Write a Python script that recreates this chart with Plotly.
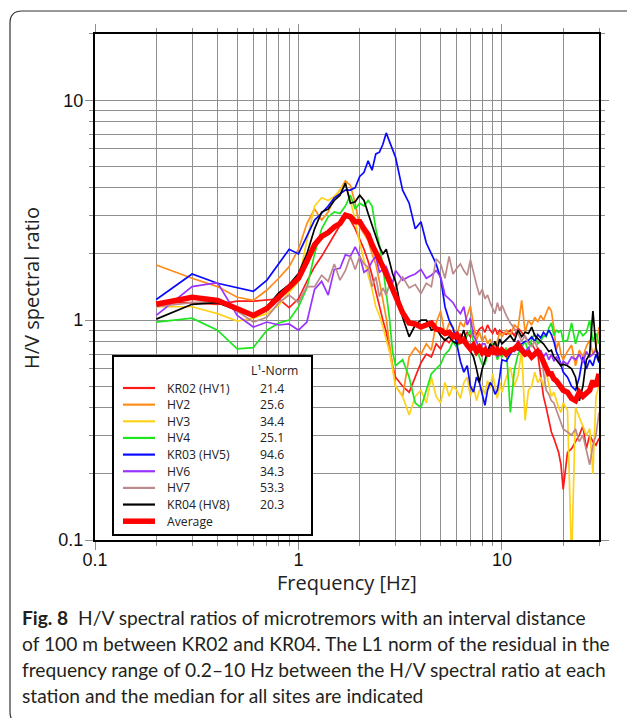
import plotly.graph_objects as go

# ---------------- data ----------------
freq = [0.2, 0.3, 0.4, 0.5, 0.6, 0.7, 0.8, 0.9, 1.0,
        1.1, 1.2, 1.3, 1.4, 1.5, 1.6, 1.7, 1.8, 1.9, 2.0,
        2.1, 2.2, 2.3, 2.4, 2.5, 2.6, 2.7, 2.8, 2.9, 3.0,
        3.25, 3.5, 3.75, 4.0, 4.25, 4.5, 4.75, 5.0, 5.25, 5.5,
        5.75, 6.0, 6.25, 6.5, 6.75, 7.0, 7.25, 7.5, 7.75, 8.0,
        8.25, 8.5, 8.75, 9.0, 9.25, 9.5, 9.75, 10.0,
        10.5, 11, 11.5, 12, 12.5, 13, 13.5, 14, 14.5, 15,
        15.5, 16, 16.5, 17, 17.5, 18, 18.5, 19, 19.5, 20,
        21, 22, 23, 24, 25, 26, 27, 28, 29, 30]

kr02 = [1.2, 1.2, 1.18, 1.22, 1.22, 1.24, 1.25, 1.14, 1.25,
        1.5, 1.75, 1.95, 2.2, 2.45, 2.7, 3.05, 2.85, 2.6, 2.35,
        2.1, 1.85, 1.6, 1.35, 1.15, 1.0, 0.88, 0.74, 0.62, 0.55,
        0.5, 0.47, 0.55, 0.64, 0.7, 0.68, 0.78, 0.74, 0.82, 0.79,
        0.85, 0.8, 0.86, 0.83, 0.88, 0.84, 0.9, 0.86, 0.91, 0.93,
        0.88, 0.95, 0.9, 0.87, 0.92, 0.86, 0.9, 0.88,
        0.86, 0.9, 0.85, 0.92, 0.88, 0.84, 0.8, 0.78, 0.74, 0.7,
        0.56, 0.45, 0.4, 0.35, 0.31, 0.29, 0.27, 0.25, 0.22, 0.17,
        0.25, 0.26, 0.28, 0.3, 0.33, 0.26, 0.3, 0.28, 0.27, 0.29]

hv2 = [1.78, 1.55, 1.42, 1.27, 1.23, 1.37, 1.55, 1.75, 2.1,
       2.75, 3.2, 2.85, 3.1, 3.6, 3.9, 4.3, 4.1, 3.4, 2.65,
       2.45, 2.3, 2.0, 1.8, 1.5, 1.25, 1.02, 0.78, 0.62, 0.5,
       0.45, 0.68, 0.75, 0.7, 0.78, 0.73, 0.97, 1.1, 0.85, 0.97,
       0.92, 0.85, 0.98, 0.93, 1.05, 1.16, 0.95, 0.81, 0.88, 0.8,
       0.85, 0.78, 0.82, 0.75, 0.73, 0.8, 0.88, 0.84,
       0.9, 0.85, 0.95, 0.92, 1.23, 0.88, 1.0, 0.95, 1.03, 0.98,
       1.05, 1.0, 1.07, 1.15, 1.1, 0.92, 0.73, 0.8, 0.7, 0.66,
       0.72, 0.77, 0.62, 0.73, 0.68, 0.76, 0.81, 0.7, 0.75, 0.93]

hv3 = [1.15, 1.15, 1.07, 0.99, 1.02, 1.07, 1.17, 1.33, 1.5,
       2.3, 3.3, 3.6, 3.5, 3.65, 3.9, 4.2, 3.5, 2.85, 2.24,
       1.87, 1.6, 1.38, 1.15, 1.05, 0.93, 0.81, 0.72, 0.6, 0.5,
       0.45, 0.37, 0.45, 0.48, 0.42, 0.55, 0.45, 0.42, 0.52, 0.45,
       0.5, 0.48, 0.44, 0.52, 0.55, 0.45, 0.5, 0.43, 0.48, 0.5,
       0.46, 0.53, 0.49, 0.57, 0.5, 0.44, 0.52, 0.47,
       0.55, 0.61, 0.5, 0.56, 0.73, 0.35, 0.48, 0.5, 0.58, 0.52,
       0.55, 0.5, 0.58, 0.5, 0.45, 0.47, 0.43, 0.4, 0.38, 0.42,
       0.39, 0.08, 0.4, 0.36, 0.33, 0.3, 0.32, 0.2, 0.45, 0.5]

hv4 = [0.98, 1.02, 0.9, 0.74, 0.75, 0.9, 0.97, 1.0, 1.15,
       1.4, 2.0, 2.6, 2.95, 3.1, 3.05, 3.3, 3.7, 3.2, 3.4,
       3.3, 3.5, 3.3, 2.6, 2.2, 1.74, 1.35, 1.02, 0.72, 0.62,
       0.66, 0.55, 0.42, 0.4, 0.48, 0.57, 0.6, 0.63, 0.7, 0.73,
       0.8, 0.75, 0.82, 0.79, 0.85, 0.9, 0.8, 0.73, 0.68, 0.63,
       0.63, 0.7, 0.75, 0.78, 0.72, 0.66, 0.7, 0.68,
       0.75, 0.38, 0.59, 0.7, 0.75, 0.8, 0.72, 0.82, 0.87, 0.78,
       0.8, 0.85, 0.84, 0.92, 0.97, 0.85, 0.9, 0.88, 0.9, 0.8,
       0.81, 0.97, 0.78, 0.9, 0.85, 0.88, 1.0, 0.8, 0.87, 0.78]

kr03 = [1.24, 1.62, 1.47, 1.4, 1.35, 1.52, 1.81, 2.1, 2.0,
        2.4, 2.85, 3.06, 3.3, 3.6, 3.75, 3.9, 3.9, 4.0, 4.5,
        4.7, 5.3, 4.8, 5.7, 5.8, 6.3, 7.1, 6.5, 6.0, 5.5,
        3.9, 3.4, 2.6, 2.8, 2.24, 2.0, 1.8, 1.55, 1.15, 1.0,
        0.92, 0.78, 0.65, 0.58, 0.62, 0.5, 0.47, 0.55, 0.52, 0.46,
        0.41, 0.48, 0.52, 0.5, 0.46, 0.48, 0.55, 0.66,
        0.65, 0.7, 0.75, 0.73, 0.78, 0.8, 0.81, 0.84, 0.8, 0.86,
        0.83, 0.88, 0.85, 0.9, 0.86, 0.8, 0.72, 0.68, 0.62, 0.58,
        0.55, 0.5, 0.48, 0.55, 0.68, 0.6, 0.66, 0.62, 0.7, 0.64]

hv6 = [1.05, 1.42, 1.48, 1.05, 0.93, 0.98, 0.95, 0.96, 0.9,
       0.98, 1.38, 1.5, 1.3, 1.7, 1.72, 1.98, 1.95, 2.15, 1.95,
       1.65, 1.7, 1.85, 1.95, 1.65, 1.7, 1.75, 1.6, 1.47, 1.68,
       1.52, 1.58, 1.62, 1.7, 1.55, 1.6, 1.68, 1.57, 1.3, 1.25,
       1.2, 1.12, 1.07, 1.15, 0.95, 1.02, 0.85, 0.8, 0.74, 0.78,
       0.78, 0.72, 0.76, 0.7, 0.74, 0.68, 0.72, 0.71,
       0.69, 0.74, 0.72, 0.81, 0.76, 0.72, 0.75, 0.69, 0.72, 0.7,
       0.73, 0.68, 0.71, 0.66, 0.7, 0.65, 0.68, 0.66, 0.62, 0.65,
       0.63, 0.68, 0.66, 0.7, 0.64, 0.72, 0.68, 0.7, 0.73, 0.7]

hv7 = [1.15, 1.2, 1.22, 1.1, 0.98, 1.03, 1.2, 1.3, 1.2,
       1.42, 1.42, 1.6, 1.5, 1.8, 1.52, 1.68, 1.95, 1.7, 1.95,
       1.8, 1.74, 1.42, 1.57, 1.28, 1.4, 1.3, 1.45, 1.32, 1.4,
       1.57, 1.4, 1.45, 1.32, 1.47, 1.42, 1.9, 1.8, 1.55, 1.95,
       1.62, 1.72, 1.8, 1.68, 1.6, 1.88, 1.62, 1.45, 1.3, 1.38,
       1.25, 1.3, 1.2, 1.14, 1.07, 1.2, 1.1, 1.17,
       1.05, 0.97, 0.92, 0.87, 0.8, 0.85, 0.78, 0.76, 0.8, 0.74,
       0.71, 0.57, 0.48, 0.46, 0.43, 0.42, 0.39, 0.36, 0.34, 0.32,
       0.31, 0.3, 0.32, 0.28, 0.3, 0.26, 0.22, 0.27, 0.3, 0.38]

kr04 = [1.01, 1.18, 1.2, 1.11, 1.06, 1.15, 1.33, 1.45, 1.63,
        2.0, 2.6, 3.1, 3.2, 3.5, 3.7, 4.2, 3.4, 3.45, 3.7,
        3.5, 3.05, 2.7, 2.45, 2.15, 2.0, 2.1, 1.85, 1.63, 1.5,
        1.03, 0.84, 0.95, 1.0, 1.0, 0.9, 0.92, 0.85, 0.81, 0.84,
        0.8, 0.78, 0.82, 0.9, 0.78, 0.72, 0.68, 0.6, 0.52, 0.6,
        0.66, 0.72, 0.78, 0.75, 0.8, 0.74, 0.82, 0.78,
        0.82, 0.85, 0.8, 0.9, 0.84, 0.88, 0.87, 0.93, 0.85, 0.82,
        0.8, 0.78, 0.75, 0.72, 0.73, 0.68, 0.66, 0.64, 0.62, 0.63,
        0.62, 0.6, 0.55, 0.43, 0.5, 0.66, 0.7, 1.1, 0.75, 0.65]

average = [1.18, 1.27, 1.23, 1.12, 1.05, 1.13, 1.27, 1.42, 1.55,
           1.85, 2.2, 2.4, 2.5, 2.65, 2.75, 3.0, 2.95, 2.8, 2.8,
           2.6, 2.45, 2.2, 2.05, 1.87, 1.75, 1.62, 1.5, 1.42, 1.3,
           1.08, 0.97, 0.96, 0.93, 0.95, 0.97, 0.91, 0.9, 0.87, 0.88,
           0.84, 0.86, 0.8, 0.81, 0.77, 0.74, 0.77, 0.72, 0.75, 0.71,
           0.73, 0.69, 0.72, 0.74, 0.7, 0.73, 0.7, 0.73,
           0.7, 0.73, 0.74, 0.77, 0.73, 0.7, 0.71, 0.68, 0.7, 0.72,
           0.69, 0.64, 0.61, 0.57, 0.57, 0.54, 0.53, 0.51, 0.5, 0.48,
           0.47, 0.44, 0.43, 0.47, 0.45, 0.47, 0.48, 0.53, 0.5, 0.57]

names = ["KR02 (HV1)", "HV2", "HV3", "HV4", "KR03 (HV5)", "HV6", "HV7", "KR04 (HV8)", "Average"]
l1_norm = ["21.4", "25.6", "34.4", "25.1", "94.6", "34.3", "53.3", "20.3", ""]
series = [kr02, hv2, hv3, hv4, kr03, hv6, hv7, kr04, average]
colors = ["#ff1a1a", "#ff8c1a", "#ffd21a", "#1ee61e", "#0a0aff", "#9933ff", "#bc8a8a", "#000000", "#ff0000"]
widths = [1.7, 1.7, 1.7, 1.7, 1.7, 1.7, 1.7, 1.7, 5.5]

x_ticks = [0.1, 1, 10]
y_ticks = [0.1, 1, 10]
x_minor = [0.2, 0.3, 0.4, 0.5, 0.6, 0.7, 0.8, 0.9, 2, 3, 4, 5, 6, 7, 8, 9, 20, 30]
y_minor = [0.2, 0.3, 0.4, 0.5, 0.6, 0.7, 0.8, 0.9, 2, 3, 4, 5, 6, 7, 8, 9, 20]

caption_lines = [
    "<b>Fig. 8</b>\u00a0 H/V spectral ratios of microtremors with an interval distance",
    "of 100 m between KR02 and KR04. The L1 norm of the residual in the",
    "frequency range of 0.2–10 Hz between the H/V spectral ratio at each",
    "station and the median for all sites are indicated",
]

for s in series:
    assert len(s) == len(freq), len(s)

# ---------------- layout geometry (pixels) ----------------
W, H = 627, 718
L, R, T, B = 95, 599, 34, 540


def px(x):
    return (x - L) / (R - L)


def py(y):
    return (B - y) / (B - T)


fig = go.Figure()
for s, n, c, w in zip(series, names, colors, widths):
    fig.add_trace(go.Scatter(x=freq, y=s, mode="lines", name=n,
                             line=dict(color=c, width=w), showlegend=False))

grid = "#8f8f8f"
axis_common = dict(
    type="log", showline=True, linecolor="black", linewidth=2.2, mirror="allticks",
    ticks="outside", ticklen=8, tickwidth=1.2, tickcolor=grid,
    showgrid=True, gridcolor=grid, gridwidth=1.1, zeroline=False,
    tickfont=dict(family="Liberation Sans, Arial, sans-serif", size=18, color="#111"),
    automargin=False,
)
fig.update_xaxes(range=[-1, 1.4771], tickvals=x_ticks, ticktext=["0.1", "1", "10"],
                 ticklabelstandoff=-6,
                 minor=dict(tickvals=x_minor, ticks="outside", ticklen=4, tickcolor=grid,
                            showgrid=True, gridcolor=grid, gridwidth=1.1),
                 **axis_common)
fig.update_yaxes(range=[-1, 1.301], tickvals=y_ticks, ticktext=["0.1", "1", "10"],
                 ticklabelstandoff=-2,
                 minor=dict(tickvals=y_minor, ticks="outside", ticklen=4, tickcolor=grid,
                            showgrid=True, gridcolor=grid, gridwidth=1.1),
                 **axis_common)

shapes = []
annotations = []

# outer rounded frame of the figure panel
fx0, fy0, fy1, rr = 10, 11, 724, 12
path = (f"M {px(700)},{py(fy0)} L {px(fx0 + rr)},{py(fy0)} "
        f"Q {px(fx0)},{py(fy0)} {px(fx0)},{py(fy0 + rr)} "
        f"L {px(fx0)},{py(fy1 - rr)} Q {px(fx0)},{py(fy1)} {px(fx0 + rr)},{py(fy1)} "
        f"L {px(700)},{py(fy1)}")
shapes.append(dict(type="path", path=path, xref="paper", yref="paper",
                   line=dict(color="#333333", width=1.2)))

# legend box
shapes.append(dict(type="rect", xref="paper", yref="paper",
                   x0=px(113), x1=px(312), y0=py(535), y1=py(356),
                   fillcolor="white", line=dict(color="black", width=2), layer="above"))
lfont = dict(family="Open Sans, sans-serif", size=12.2, color="#222")
annotations.append(dict(text="L¹-Norm", x=px(274), y=py(371), xref="paper", yref="paper",
                        showarrow=False, font=lfont, xanchor="center", yanchor="middle"))
row0, step = 388, 16.65
for i, (n, c, w, v) in enumerate(zip(names, colors, widths, l1_norm)):
    yy = row0 + i * step
    shapes.append(dict(type="line", xref="paper", yref="paper",
                       x0=px(123), x1=px(155), y0=py(yy), y1=py(yy),
                       line=dict(color=c, width=(w if w > 2 else 2.2)), layer="above"))
    annotations.append(dict(text=n, x=px(165), y=py(yy), xref="paper", yref="paper",
                            showarrow=False, font=lfont, xanchor="left", yanchor="middle"))
    if v:
        annotations.append(dict(text=v, x=px(286), y=py(yy), xref="paper", yref="paper",
                                showarrow=False, font=lfont, xanchor="right", yanchor="middle"))

# axis titles
tfont = dict(family="Open Sans, sans-serif", size=20, color="#222")
annotations.append(dict(text="Frequency [Hz]", x=px(347), y=py(582), xref="paper", yref="paper",
                        showarrow=False, font=tfont, xanchor="center", yanchor="middle"))
annotations.append(dict(text="H/V spectral ratio", x=px(31), y=py(288), xref="paper", yref="paper",
                        showarrow=False, font=tfont, xanchor="center", yanchor="middle",
                        textangle=-90))

# caption, one annotation per line
cfont = dict(family="Lato, sans-serif", size=19.2, color="#231f20")
for i, line in enumerate(caption_lines):
    annotations.append(dict(text=line, x=px(20), y=py(617 + i * 26.3), xref="paper", yref="paper",
                            showarrow=False, font=cfont, xanchor="left", yanchor="middle",
                            align="left"))

fig.update_layout(
    width=W, height=H, margin=dict(l=L, r=W - R, t=T, b=H - B, autoexpand=False),
    paper_bgcolor="white", plot_bgcolor="white",
    shapes=shapes, annotations=annotations, showlegend=False,
)

fig.write_html("out.html")
